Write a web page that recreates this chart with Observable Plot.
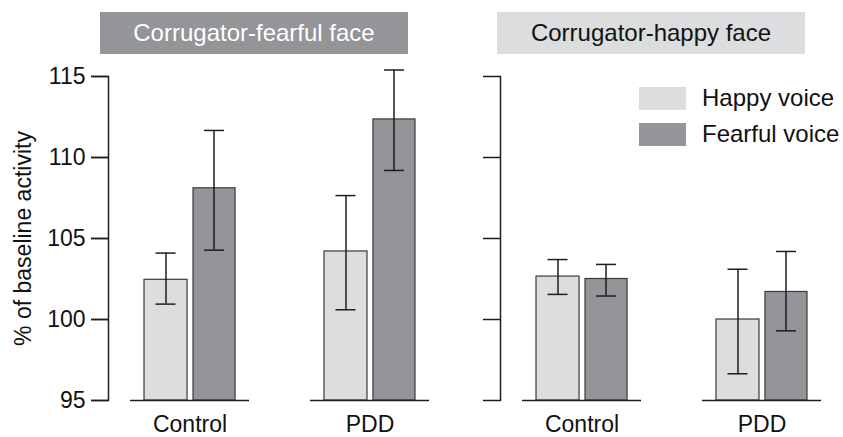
<!DOCTYPE html>
<html>
<head>
<meta charset="utf-8">
<script src="https://cdn.jsdelivr.net/npm/d3@7"></script>
<script src="https://cdn.jsdelivr.net/npm/@observablehq/plot@0.6"></script>
<style>
  html, body { margin: 0; padding: 0; background: #fff; }
  body { width: 843px; height: 437px; overflow: hidden; font-family: "Liberation Sans", Arial, Helvetica, sans-serif; }
  #wrap { position: relative; width: 843px; height: 437px; }
  #chart { position: absolute; left: 0; top: 0; }
  .hdr { position: absolute; top: 12px; height: 42px; line-height: 42px; text-align: center; font-size: 24px; }
  .leg { position: absolute; left: 639px; font-size: 24px; color: #111; }
  .leg span.sw { position: absolute; left: 0; top: 0; width: 47px; height: 23px; }
  .leg span.lb { position: absolute; left: 63px; top: -3px; white-space: nowrap; line-height: 28px; }
</style>
</head>
<body>
<div id="wrap">
  <div id="chart"></div>
</div>
<script>
// ---- data ----
const panels = ["Corrugator-fearful face", "Corrugator-happy face"];
const groups = ["Control", "PDD"];
const voices = ["Happy voice", "Fearful voice"];
const yTicks = [95, 100, 105, 110, 115];
const yMin = 95;

// order: fearful face Control, fearful face PDD, happy face Control, happy face PDD
const happyVoiceMean  = [102.45, 104.2, 102.65, 100.0];
const happyVoiceLow   = [100.95, 100.6, 101.55, 96.65];
const happyVoiceHigh  = [104.1, 107.65, 103.7, 103.1];
const fearfulVoiceMean = [108.1, 112.35, 102.5, 101.7];
const fearfulVoiceLow  = [104.28, 109.2, 101.45, 99.3];
const fearfulVoiceHigh = [111.67, 115.4, 103.4, 104.2];

const voiceColors = ["#dcdddf", "#939598"];
const headerText = ["#ffffff", "#111111"];

// ---- build rows ----
const cells = panels.flatMap(p => groups.map(g => ({panel: p, group: g})));
const happyRows = cells.map((c, i) => ({...c, voice: voices[0], mean: happyVoiceMean[i], lo: happyVoiceLow[i], hi: happyVoiceHigh[i]}));
const fearfulRows = cells.map((c, i) => ({...c, voice: voices[1], mean: fearfulVoiceMean[i], lo: fearfulVoiceLow[i], hi: fearfulVoiceHigh[i]}));

const ink = "#1e1e1e";
const barStroke = "#3a3a3a";
const font = "'Liberation Sans', Arial, Helvetica, sans-serif";

// per-voice geometry within a group band (bandwidth ~163px)
const happyInset = {insetLeft: 36, insetRight: 84};
const fearfulInset = {insetLeft: 85, insetRight: 36};
const happyCap = {insetLeft: 47.5, insetRight: 95.5};
const fearfulCap = {insetLeft: 96, insetRight: 47};

function errorMarks(rows, dx, cap) {
  return [
    Plot.ruleX(rows, {fx: "panel", x: "group", y1: "lo", y2: "hi", dx, stroke: ink, strokeWidth: 1.5}),
    Plot.tickY(rows, {fx: "panel", x: "group", y: "lo", stroke: ink, strokeWidth: 1.5, ...cap}),
    Plot.tickY(rows, {fx: "panel", x: "group", y: "hi", stroke: ink, strokeWidth: 1.5, ...cap})
  ];
}

const chart = Plot.plot({
  width: 843,
  height: 437,
  marginTop: 76,
  marginBottom: 37,
  marginLeft: 108,
  marginRight: 0,
  style: {fontFamily: font, fontSize: "23px", color: "#111", background: "transparent"},
  fx: {domain: panels, paddingInner: 0.125, paddingOuter: 0, round: false, axis: null, label: null},
  x: {type: "band", domain: groups, paddingInner: 0.094, paddingOuter: 0, round: false, label: null},
  y: {domain: [yMin, 115], label: null},
  marks: [
    Plot.barY(happyRows, {fx: "panel", x: "group", y1: yMin, y2: "mean", fill: voiceColors[0], stroke: barStroke, strokeWidth: 1.2, ...happyInset}),
    Plot.barY(fearfulRows, {fx: "panel", x: "group", y1: yMin, y2: "mean", fill: voiceColors[1], stroke: barStroke, strokeWidth: 1.2, ...fearfulInset}),
    ...errorMarks(happyRows, -24, happyCap),
    ...errorMarks(fearfulRows, 24, fearfulCap),
    Plot.tickY(cells, {fx: "panel", x: "group", y: () => yMin, stroke: ink, strokeWidth: 1.5, insetLeft: 22, insetRight: 22}),
    Plot.frame({anchor: "left", stroke: ink, strokeWidth: 1.5}),
    Plot.axisY(yTicks, {anchor: "left", facetAnchor: null, tickSize: 17, text: null, stroke: ink, strokeWidth: 1.5, label: null}),
    Plot.axisY(yTicks, {anchor: "left", tickSize: 17, tickPadding: 6, fontSize: 23, stroke: ink, strokeWidth: 1.5, fill: "#111",
      label: "% of baseline activity", labelAnchor: "center", labelArrow: "none", labelOffset: 94}),
    Plot.axisX({anchor: "bottom", tickSize: 0, tickPadding: 15, fontSize: 23, fill: "#111", label: null})
  ]
});
document.getElementById("chart").appendChild(chart);

// ---- panel headers ----
const wrap = document.getElementById("wrap");
const hdrBoxes = [{left: 100, width: 308}, {left: 497, width: 308}];
panels.forEach((p, i) => {
  const d = document.createElement("div");
  d.className = "hdr";
  d.style.left = hdrBoxes[i].left + "px";
  d.style.width = hdrBoxes[i].width + "px";
  d.style.background = voiceColors[1 - i];
  d.style.color = headerText[i];
  d.textContent = p;
  wrap.appendChild(d);
});

// ---- legend ----
const legTops = [87, 123];
voices.forEach((v, i) => {
  const d = document.createElement("div");
  d.className = "leg";
  d.style.top = legTops[i] + "px";
  const sw = document.createElement("span");
  sw.className = "sw";
  sw.style.background = voiceColors[i];
  const lb = document.createElement("span");
  lb.className = "lb";
  lb.textContent = v;
  d.appendChild(sw);
  d.appendChild(lb);
  wrap.appendChild(d);
});
</script>
</body>
</html>
